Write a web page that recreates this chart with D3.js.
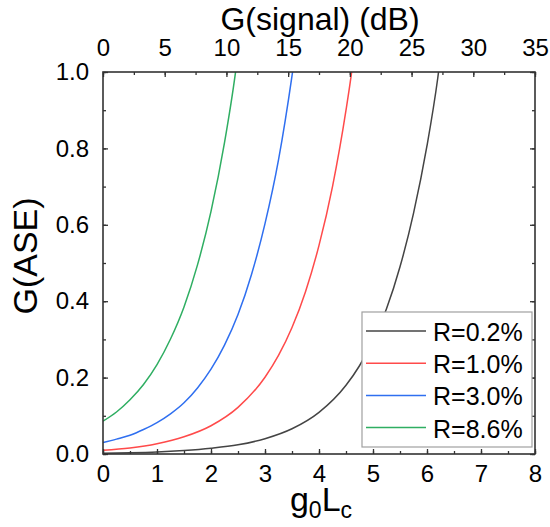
<!DOCTYPE html>
<html>
<head>
<meta charset="utf-8">
<script src="https://cdn.jsdelivr.net/npm/d3@7"></script>
<style>
  body { margin: 0; background: #fff; }
  text { font-family: "Liberation Sans", Arial, sans-serif; fill: #000; }
</style>
</head>
<body>
<div id="chart"></div>
<script>
// values
var labels = ["R=0.2%", "R=1.0%", "R=3.0%", "R=8.6%"];
var colors = ["#444444", "#ff4a4a", "#2f6ff0", "#2fae62"];

var x02 = [0, 0.5, 1, 1.5, 2, 2.5, 3, 3.5, 4, 4.5, 4.75, 5, 5.25, 5.5, 5.75, 6, 6.2, 6.25];
var y02 = [0.002, 0.003, 0.005, 0.009, 0.015, 0.024, 0.040, 0.066, 0.109, 0.180, 0.231, 0.297, 0.38, 0.49, 0.63, 0.807, 0.985, 1.04];

var x10 = [0, 0.5, 1, 1.5, 2, 2.5, 3, 3.25, 3.5, 3.75, 4, 4.25, 4.5, 4.6, 4.65];
var y10 = [0.010, 0.016, 0.027, 0.045, 0.074, 0.122, 0.201, 0.258, 0.331, 0.425, 0.546, 0.70, 0.90, 0.995, 1.05];

var x30 = [0, 0.25, 0.5, 0.75, 1, 1.25, 1.5, 1.75, 2, 2.25, 2.5, 2.75, 3, 3.25, 3.5, 3.55];
var y30 = [0.030, 0.039, 0.049, 0.064, 0.082, 0.105, 0.134, 0.173, 0.222, 0.285, 0.365, 0.47, 0.603, 0.77, 0.99, 1.04];

var x86 = [0, 0.25, 0.5, 0.75, 1, 1.25, 1.5, 1.75, 2, 2.25, 2.45, 2.5];
var y86 = [0.086, 0.110, 0.142, 0.182, 0.234, 0.301, 0.385, 0.495, 0.635, 0.815, 0.995, 1.05];

var xTicks = [0, 1, 2, 3, 4, 5, 6, 7, 8];
var topTicks = [0, 5, 10, 15, 20, 25, 30, 35];
var yTicks = [0, 0.2, 0.4, 0.6, 0.8, 1.0];

var seriesX = [x02, x10, x30, x86];
var seriesY = [y02, y10, y30, y86];

var W = 550, H = 527;
var pLeft = 103, pRight = 535, pTop = 72, pBottom = 454;

var svg = d3.select("#chart").append("svg").attr("width", W).attr("height", H);

var x = d3.scaleLinear().domain([0, 8]).range([pLeft, pRight]);
var xTop = d3.scaleLinear().domain([0, 35]).range([pLeft, pRight]);
var y = d3.scaleLinear().domain([0, 1]).range([pBottom, pTop]);

svg.append("clipPath").attr("id", "clip")
  .append("rect").attr("x", pLeft).attr("y", pTop)
  .attr("width", pRight - pLeft).attr("height", pBottom - pTop);

// curves
var line = d3.line()
  .x(function(d) { return x(d[0]); })
  .y(function(d) { return y(d[1]); })
  .curve(d3.curveMonotoneX);

for (var i = 0; i < seriesX.length; i++) {
  var pts = seriesX[i].map(function(v, j) { return [v, seriesY[i][j]]; });
  svg.append("path")
    .attr("d", line(pts))
    .attr("fill", "none")
    .attr("stroke", colors[i])
    .attr("stroke-width", 1.5)
    .attr("clip-path", "url(#clip)");
}

// axes, ticks pointing inward
function styleAxis(g) {
  g.select(".domain").remove();
  g.selectAll("line").attr("stroke", "#333").attr("stroke-width", 1.3);
  g.selectAll("text").style("font-size", "24px").style("font-family", "'Liberation Sans', Arial, sans-serif");
}

var minorX = d3.range(0, 8.01, 0.5);
var minorTop = d3.range(0, 35.1, 2.5);
var minorY = d3.range(0, 1.001, 0.1);

var gb = svg.append("g").attr("transform", "translate(0," + pBottom + ")")
  .call(d3.axisBottom(x).tickValues(xTicks).tickSize(-5).tickPadding(11).tickFormat(d3.format("d")));
styleAxis(gb);
svg.append("g").attr("transform", "translate(0," + pBottom + ")")
  .call(d3.axisBottom(x).tickValues(minorX).tickSize(-3).tickFormat(""))
  .call(styleAxis);

var gt = svg.append("g").attr("transform", "translate(0," + pTop + ")")
  .call(d3.axisTop(xTop).tickValues(topTicks).tickSize(-5).tickPadding(16).tickFormat(d3.format("d")));
styleAxis(gt);
svg.append("g").attr("transform", "translate(0," + pTop + ")")
  .call(d3.axisTop(xTop).tickValues(minorTop).tickSize(-3).tickFormat(""))
  .call(styleAxis);

var gl = svg.append("g").attr("transform", "translate(" + pLeft + ",0)")
  .call(d3.axisLeft(y).tickValues(yTicks).tickSize(-5).tickPadding(14).tickFormat(d3.format(".1f")));
styleAxis(gl);
svg.append("g").attr("transform", "translate(" + pLeft + ",0)")
  .call(d3.axisLeft(y).tickValues(minorY).tickSize(-3).tickFormat(""))
  .call(styleAxis);

svg.append("g").attr("transform", "translate(" + pRight + ",0)")
  .call(d3.axisRight(y).tickValues(yTicks).tickSize(-5).tickFormat(""))
  .call(styleAxis);
svg.append("g").attr("transform", "translate(" + pRight + ",0)")
  .call(d3.axisRight(y).tickValues(minorY).tickSize(-3).tickFormat(""))
  .call(styleAxis);

// frame
svg.append("rect")
  .attr("x", pLeft).attr("y", pTop)
  .attr("width", pRight - pLeft).attr("height", pBottom - pTop)
  .attr("fill", "none").attr("stroke", "#333").attr("stroke-width", 1.6);

// titles
svg.append("text").attr("x", 320).attr("y", 29.5)
  .attr("text-anchor", "middle").style("font-size", "32px")
  .text("G(signal) (dB)");

svg.append("text")
  .attr("transform", "translate(37,256) rotate(-90)")
  .attr("text-anchor", "middle").style("font-size", "34px")
  .text("G(ASE)");

var xt = svg.append("text").attr("x", 321).attr("y", 511)
  .attr("text-anchor", "middle").style("font-size", "34px");
xt.append("tspan").text("g");
xt.append("tspan").attr("dy", 7).style("font-size", "23px").text("0");
xt.append("tspan").attr("dy", -7).text("L");
xt.append("tspan").attr("dy", 7).style("font-size", "23px").text("c");

// legend
var lg = svg.append("g");
lg.append("rect").attr("x", 362).attr("y", 312).attr("width", 170).attr("height", 135)
  .attr("fill", "#fff").attr("stroke", "#a0a0a0").attr("stroke-width", 1.2);
for (var k = 0; k < labels.length; k++) {
  var ly = 332 + k * 32.2;
  lg.append("line").attr("x1", 366).attr("x2", 426).attr("y1", ly - 1).attr("y2", ly - 1)
    .attr("stroke", colors[k]).attr("stroke-width", 1.5);
  lg.append("text").attr("x", 433).attr("y", ly).attr("dy", "0.36em")
    .style("font-size", "25px").text(labels[k]);
}
</script>
</body>
</html>
